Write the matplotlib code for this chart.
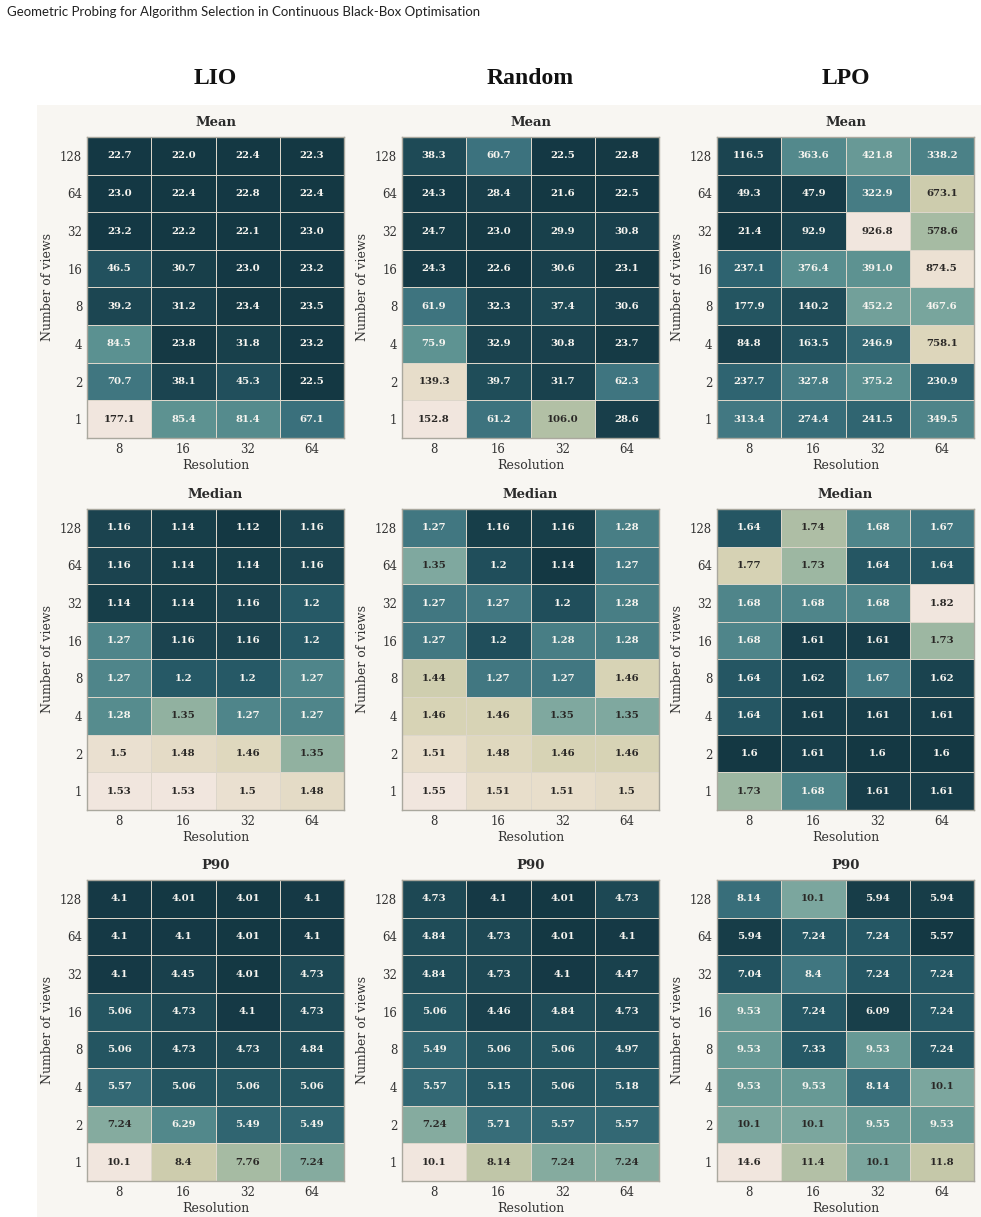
import numpy as np
import matplotlib
matplotlib.use("Agg")
import matplotlib.pyplot as plt
from matplotlib.colors import LinearSegmentedColormap, Normalize
from matplotlib.patches import Rectangle

views = [128, 64, 32, 16, 8, 4, 2, 1]
resolutions = [8, 16, 32, 64]
strategies = ["LIO", "Random", "LPO"]
metrics = ["Mean", "Median", "P90"]

lio_mean = [[22.7, 22.0, 22.4, 22.3], [23.0, 22.4, 22.8, 22.4], [23.2, 22.2, 22.1, 23.0],
            [46.5, 30.7, 23.0, 23.2], [39.2, 31.2, 23.4, 23.5], [84.5, 23.8, 31.8, 23.2],
            [70.7, 38.1, 45.3, 22.5], [177.1, 85.4, 81.4, 67.1]]
random_mean = [[38.3, 60.7, 22.5, 22.8], [24.3, 28.4, 21.6, 22.5], [24.7, 23.0, 29.9, 30.8],
               [24.3, 22.6, 30.6, 23.1], [61.9, 32.3, 37.4, 30.6], [75.9, 32.9, 30.8, 23.7],
               [139.3, 39.7, 31.7, 62.3], [152.8, 61.2, 106.0, 28.6]]
lpo_mean = [[116.5, 363.6, 421.8, 338.2], [49.3, 47.9, 322.9, 673.1], [21.4, 92.9, 926.8, 578.6],
            [237.1, 376.4, 391.0, 874.5], [177.9, 140.2, 452.2, 467.6], [84.8, 163.5, 246.9, 758.1],
            [237.7, 327.8, 375.2, 230.9], [313.4, 274.4, 241.5, 349.5]]

lio_median = [[1.16, 1.14, 1.12, 1.16], [1.16, 1.14, 1.14, 1.16], [1.14, 1.14, 1.16, 1.2],
              [1.27, 1.16, 1.16, 1.2], [1.27, 1.2, 1.2, 1.27], [1.28, 1.35, 1.27, 1.27],
              [1.5, 1.48, 1.46, 1.35], [1.53, 1.53, 1.5, 1.48]]
random_median = [[1.27, 1.16, 1.16, 1.28], [1.35, 1.2, 1.14, 1.27], [1.27, 1.27, 1.2, 1.28],
                 [1.27, 1.2, 1.28, 1.28], [1.44, 1.27, 1.27, 1.46], [1.46, 1.46, 1.35, 1.35],
                 [1.51, 1.48, 1.46, 1.46], [1.55, 1.51, 1.51, 1.5]]
lpo_median = [[1.64, 1.74, 1.68, 1.67], [1.77, 1.73, 1.64, 1.64], [1.68, 1.68, 1.68, 1.82],
              [1.68, 1.61, 1.61, 1.73], [1.64, 1.62, 1.67, 1.62], [1.64, 1.61, 1.61, 1.61],
              [1.6, 1.61, 1.6, 1.6], [1.73, 1.68, 1.61, 1.61]]

lio_p90 = [[4.1, 4.01, 4.01, 4.1], [4.1, 4.1, 4.01, 4.1], [4.1, 4.45, 4.01, 4.73],
           [5.06, 4.73, 4.1, 4.73], [5.06, 4.73, 4.73, 4.84], [5.57, 5.06, 5.06, 5.06],
           [7.24, 6.29, 5.49, 5.49], [10.1, 8.4, 7.76, 7.24]]
random_p90 = [[4.73, 4.1, 4.01, 4.73], [4.84, 4.73, 4.01, 4.1], [4.84, 4.73, 4.1, 4.47],
              [5.06, 4.46, 4.84, 4.73], [5.49, 5.06, 5.06, 4.97], [5.57, 5.15, 5.06, 5.18],
              [7.24, 5.71, 5.57, 5.57], [10.1, 8.14, 7.24, 7.24]]
lpo_p90 = [[8.14, 10.1, 5.94, 5.94], [5.94, 7.24, 7.24, 5.57], [7.04, 8.4, 7.24, 7.24],
           [9.53, 7.24, 6.09, 7.24], [9.53, 7.33, 9.53, 7.24], [9.53, 9.53, 8.14, 10.1],
           [10.1, 10.1, 9.55, 9.53], [14.6, 11.4, 10.1, 11.8]]

grid = [[lio_mean, random_mean, lpo_mean],
        [lio_median, random_median, lpo_median],
        [lio_p90, random_p90, lpo_p90]]
fmts = [".1f", ".3g", ".3g"]

# dark teal -> sage -> cream
cmap = LinearSegmentedColormap.from_list("tealcream", [
    (0.00, "#143843"), (0.10, "#1b4450"), (0.20, "#275b68"), (0.30, "#3c727e"),
    (0.40, "#5a9090"), (0.50, "#7aa69e"), (0.60, "#a0b8a2"), (0.70, "#c9caaa"),
    (0.80, "#dbd5b8"), (0.90, "#e7ddca"), (1.00, "#f1e6de")])

W, H = 981, 1217
fig = plt.figure(figsize=(W / 100, H / 100), dpi=100, facecolor="white")
fig.patches.append(Rectangle((37 / W, 0), 944 / W, (H - 105) / H, transform=fig.transFigure,
                             facecolor="#f8f6f2", edgecolor="none", zorder=-10))

fig.text(7 / W, 1 - 12 / H, "Geometric Probing for Algorithm Selection in Continuous Black-Box Optimisation",
         family="Lato", fontsize=9.5, color="#222222", ha="left", va="center")

col_left = [87, 402, 717]
row_top = [137, 509, 880]
cw, ch = 257, 301

for j, name in enumerate(strategies):
    fig.text((col_left[j] + cw / 2) / W, 1 - 79 / H, name, family="Liberation Serif",
             fontweight="bold", fontsize=17, ha="center", va="center", color="#111111")

for i, metric in enumerate(metrics):
    for j in range(3):
        vals = np.array(grid[i][j])
        ax = fig.add_axes([col_left[j] / W, 1 - (row_top[i] + ch) / H, cw / W, ch / H])
        ax.set_facecolor("#f8f6f2")
        norm = Normalize(vals.min(), vals.max())
        ax.pcolormesh(vals, cmap=cmap, norm=norm, edgecolors="#dcd6ca", linewidth=0.7)
        ax.set_xlim(0, len(resolutions))
        ax.set_ylim(len(views), 0)
        for r in range(len(views)):
            for c in range(len(resolutions)):
                v = vals[r, c]
                tc = "#2a2826" if norm(v) > 0.5 else "#f7f5f0"
                ax.text(c + 0.5, r + 0.5, format(v, fmts[i]), ha="center", va="center",
                        family="DejaVu Serif", fontweight="bold", fontsize=7.3, color=tc)
        ax.set_xticks(np.arange(len(resolutions)) + 0.5)
        ax.set_xticklabels(resolutions)
        ax.set_yticks(np.arange(len(views)) + 0.5)
        ax.set_yticklabels(views)
        ax.tick_params(length=0, pad=3.5, labelsize=8.5, labelcolor="#333333")
        for lab in ax.get_xticklabels() + ax.get_yticklabels():
            lab.set_family("DejaVu Serif")
        for s in ax.spines.values():
            s.set_color("#aaa89e")
            s.set_linewidth(1.0)
        ax.set_title(metric, family="DejaVu Serif", fontweight="bold", fontsize=9.5,
                     color="#2b2b2b", pad=8)
        ax.set_xlabel("Resolution", family="DejaVu Serif", fontsize=9, color="#333333", labelpad=2)
        ax.set_ylabel("Number of views", family="DejaVu Serif", fontsize=9, color="#333333", labelpad=4)

fig.savefig("out.png", dpi=100, facecolor=fig.get_facecolor())
